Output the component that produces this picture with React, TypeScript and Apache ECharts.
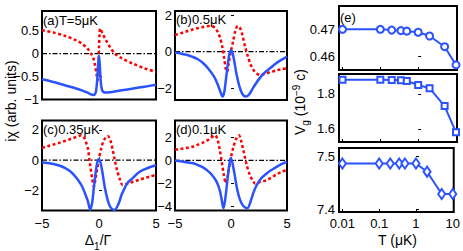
import React, { useEffect, useRef } from "react";
import * as echarts from "echarts";

// ---------- data ----------
const xBlueA = [-5, -4, -3, -2, -1.5, -1, -0.7, -0.5, -0.35, -0.25, -0.15, -0.08, 0, 0.08, 0.15, 0.25, 0.4, 0.7, 1, 1.5, 2, 3, 4, 5];
const blueA = [-0.56, -0.62, -0.69, -0.76, -0.8, -0.85, -0.89, -0.9, -0.88, -0.8, -0.55, -0.25, -0.04, -0.3, -0.6, -0.78, -0.84, -0.85, -0.84, -0.82, -0.8, -0.76, -0.72, -0.68];
const xRedA = [-5, -4, -3, -2, -1.5, -1, -0.7, -0.5, -0.35, -0.22, -0.12, -0.05, 0, 0.05, 0.1, 0.2, 0.35, 0.6, 1, 1.4, 2, 3, 4, 5];
const redA = [0.51, 0.46, 0.39, 0.29, 0.22, 0.11, 0.0, -0.1, -0.25, -0.45, -0.58, -0.25, 0.15, 0.42, 0.55, 0.5, 0.42, 0.3, 0.13, 0.0, -0.1, -0.22, -0.32, -0.4];

const xBlueB = [-5, -4.5, -4, -3.5, -3, -2.5, -2, -1.5, -1.25, -1, -0.75, -0.6, -0.45, -0.3, -0.15, 0, 0.15, 0.3, 0.5, 0.75, 1, 1.3, 1.6, 2, 2.5, 3, 3.5, 4, 4.5, 5];
const blueB = [-0.05, -0.1, -0.17, -0.27, -0.4, -0.62, -0.95, -1.38, -1.7, -2.1, -2.45, -2.2, -1.5, -0.75, -0.15, 0.08, -0.1, -0.55, -1.25, -1.9, -2.3, -2.45, -2.35, -1.95, -1.5, -1.15, -0.9, -0.65, -0.45, -0.27];
const xRedB = [-5, -4.5, -4, -3.5, -3, -2.5, -2, -1.75, -1.5, -1.25, -1, -0.75, -0.6, -0.45, -0.35, -0.2, 0, 0.2, 0.4, 0.6, 0.8, 1, 1.25, 1.5, 1.75, 2, 2.3, 2.6, 3, 3.5, 4, 4.5, 5];
const redB = [0.91, 1.0, 1.1, 1.2, 1.28, 1.35, 1.4, 1.41, 1.33, 1.15, 0.8, 0.2, -0.4, -1.0, -1.1, -0.6, 0.05, 0.6, 1.15, 1.4, 1.3, 0.95, 0.3, -0.25, -0.7, -1.0, -1.2, -1.27, -1.22, -1.12, -1.03, -0.96, -0.91];

const xBlueC = [-5, -4.5, -4, -3.5, -3, -2.5, -2, -1.75, -1.5, -1.25, -1, -0.85, -0.77, -0.6, -0.45, -0.3, -0.15, 0, 0.15, 0.3, 0.5, 0.75, 1, 1.35, 1.7, 2, 2.5, 3, 3.5, 4, 4.5, 5];
const blueC = [-0.15, -0.19, -0.25, -0.35, -0.5, -0.75, -1.15, -1.4, -1.7, -2.15, -2.65, -3.1, -3.28, -2.8, -1.8, -0.85, -0.15, 0.07, -0.2, -0.8, -1.75, -2.6, -3.1, -3.28, -2.9, -2.25, -1.5, -1.15, -0.8, -0.6, -0.45, -0.33];
const xRedC = [-5, -4.5, -4, -3.5, -3, -2.5, -2, -1.55, -1.3, -1.1, -0.97, -0.8, -0.6, -0.45, -0.3, -0.15, 0, 0.2, 0.45, 0.77, 1, 1.2, 1.35, 1.6, 1.85, 2.07, 2.5, 3, 3.5, 4, 4.5, 5];
const redC = [0.81, 0.92, 1.03, 1.14, 1.27, 1.4, 1.53, 1.64, 1.5, 1.1, 0.77, -0.2, -1.2, -1.75, -1.2, -0.55, 0.11, 0.8, 1.35, 1.6, 1.3, 0.7, 0.11, -0.7, -1.3, -1.64, -1.55, -1.42, -1.3, -1.18, -1.07, -0.98];

const xBlueD = [-5, -4.5, -4, -3.36, -3, -2.5, -2.17, -1.75, -1.28, -1, -0.85, -0.68, -0.55, -0.4, -0.25, -0.12, -0.03, 0.1, 0.3, 0.55, 0.8, 1.1, 1.46, 1.8, 2, 2.29, 2.7, 3.18, 3.5, 4, 4.5, 5];
const blueD = [0.0, -0.08, -0.15, -0.25, -0.38, -0.6, -0.83, -1.2, -1.86, -2.6, -3.3, -4.14, -3.6, -2.4, -1.1, -0.2, 0.19, -0.1, -1.1, -2.5, -3.4, -3.95, -4.14, -3.4, -2.8, -2.15, -1.55, -1.13, -0.9, -0.6, -0.33, -0.1];
const xRedD = [-5, -4.5, -4, -3.36, -3, -2.5, -2, -1.43, -1.2, -1, -0.83, -0.65, -0.45, -0.3, -0.15, 0, 0.2, 0.45, 0.71, 0.9, 1.1, 1.4, 1.7, 2, 2.14, 2.5, 3.18, 3.5, 4, 4.5, 5];
const redD = [0.92, 1.0, 1.08, 1.21, 1.35, 1.55, 1.8, 2.18, 1.8, 0.9, -0.1, -1.2, -2.0, -1.4, -0.5, 0.3, 1.1, 1.85, 2.18, 1.7, 0.9, -0.39, -1.3, -1.85, -2.0, -1.9, -1.71, -1.55, -1.25, -1.0, -0.83];

const yTicksA = [-1, -0.5, 0, 0.5];
const yTicksB = [-2, 0, 2];
const yTicksC = [-2, 0, 2];
const yTicksD = [-4, -2, 0, 2];
const xTicksAD = [-5, 0, 5];

const temps = [0.01, 0.1, 0.2, 0.35, 0.5, 1, 2, 5, 10];
const vgTop = [0.47, 0.47, 0.4697, 0.4695, 0.4693, 0.4689, 0.4675, 0.4635, 0.4567];
const vgMid = [1.881, 1.881, 1.88, 1.879, 1.874, 1.851, 1.833, 1.731, 1.581];
const vgBot = [7.486, 7.486, 7.486, 7.486, 7.486, 7.486, 7.4707, 7.429, 7.429];
const tTicks = [0.01, 0.1, 1, 10];
const tTickLabels = ["0.01", "0.1", "1", "10"];
const yTicksE1 = [0.46, 0.47];
const yTicksE2 = [1.6, 1.8];
const yTicksE3 = [7.4, 7.5];

const panelLabels = ["(a)T=5\u03bcK", "(b)0.5\u03bcK", "(c)0.35\u03bcK", "(d)0.1\u03bcK", "(e)"];

// ---------- styling ----------
const FONT = "'Liberation Sans', Arial, Helvetica, sans-serif";
const BLUE = "#2a52ff";
const RED = "#ff0000";
const FS = 13;

const minus = (v: number) => String(v).replace("-", "\u2212");

export default function App() {
  const ref = useRef<HTMLDivElement>(null);

  useEffect(() => {
    if (!ref.current) return;
    const chart = echarts.init(ref.current, undefined, { renderer: "svg" });

    const grids = [
      { left: 42, top: 11, width: 114, height: 88.5 },
      { left: 175, top: 11, width: 112, height: 89 },
      { left: 42, top: 120.5, width: 114, height: 90 },
      { left: 175, top: 120.5, width: 112, height: 90 },
      { left: 339, top: 6, width: 118, height: 64 },
      { left: 339, top: 74, width: 118, height: 68 },
      { left: 339, top: 148, width: 118, height: 64 },
    ].map((g) => ({ ...g, show: true, borderColor: "#000", borderWidth: 2, backgroundColor: "transparent" }));

    const tick = (vals?: number[]) => ({
      show: true,
      inside: true,
      length: 3,
      lineStyle: { color: "#000", width: 1 },
      ...(vals ? { customValues: vals } : {}),
    });
    const labelBase = { color: "#000", fontSize: FS, fontFamily: FONT };

    const xAD = (i: number, show: boolean) => ({
      type: "value",
      gridIndex: i,
      min: -5,
      max: 5,
      axisLine: { show: false },
      splitLine: { show: false },
      axisTick: tick(xTicksAD),
      axisLabel: { ...labelBase, show, margin: 6, customValues: xTicksAD, formatter: (v: number) => minus(v), showMinLabel: true, showMaxLabel: true },
    });
    const yAD = (i: number, min: number, max: number, ticks: number[]) => ({
      type: "value",
      gridIndex: i,
      min,
      max,
      axisLine: { show: false },
      splitLine: { show: false },
      axisTick: tick(ticks),
      axisLabel: { ...labelBase, margin: 3, customValues: ticks, formatter: (v: number) => minus(v) },
    });
    const logTicks = tTicks.map((t) => Math.log10(t));
    const xE = (i: number, show: boolean) => ({
      type: "value",
      gridIndex: i,
      min: -2.0925,
      max: 1.026,
      axisLine: { show: false },
      splitLine: { show: false },
      axisTick: tick(logTicks),
      axisLabel: {
        ...labelBase,
        show,
        margin: 5,
        customValues: logTicks,
        formatter: (v: number) => tTickLabels[logTicks.findIndex((l) => Math.abs(l - v) < 1e-6)] ?? "",
      },
    });
    const yE = (i: number, min: number, max: number, ticks: number[], dec: number) => ({
      type: "value",
      gridIndex: i,
      min,
      max,
      axisLine: { show: false },
      splitLine: { show: false },
      axisTick: tick(ticks),
      axisLabel: { ...labelBase, margin: 4, customValues: ticks, formatter: (v: number) => v.toFixed(dec) },
    });

    const pair = (xs: number[], ys: number[]) => xs.map((x, k) => [x, ys[k]]);
    const panelSeries = (i: number, xb: number[], b: number[], xr: number[], r: number[]) => [
      {
        type: "line",
        xAxisIndex: i,
        yAxisIndex: i,
        data: [[-5, 0], [5, 0]],
        symbol: "none",
        lineStyle: { color: "#000", width: 1.2, type: [5, 2, 1.5, 2] },
        z: 1,
      },
      {
        type: "line",
        xAxisIndex: i,
        yAxisIndex: i,
        data: pair(xr, r),
        symbol: "none",
        smooth: 0.3,
        lineStyle: { color: RED, width: 2.5, type: [3, 2.5] },
        z: 2,
      },
      {
        type: "line",
        xAxisIndex: i,
        yAxisIndex: i,
        data: pair(xb, b),
        symbol: "none",
        smooth: 0.3,
        lineStyle: { color: BLUE, width: 2.5 },
        z: 3,
      },
    ];
    const eSeries = (i: number, vals: number[], symbol: string, size: any) => ({
      type: "line",
      xAxisIndex: i,
      yAxisIndex: i,
      data: temps.map((t, k) => [Math.log10(t), vals[k]]),
      symbol,
      symbolSize: size,
      lineStyle: { color: BLUE, width: 2 },
      itemStyle: { color: BLUE, borderWidth: 1.5 },
    });

    const txt = (text: string, x: number, y: number, extra: any = {}) => ({
      type: "text",
      x,
      y,
      ...extra,
      style: {
        text,
        fontSize: FS,
        fontFamily: FONT,
        fill: "#000",
        align: "left",
        textAlign: "left",
        verticalAlign: "middle",
        textVerticalAlign: "middle",
        ...(extra.style || {}),
      },
    });

    const option = {
      animation: false,
      backgroundColor: "#fff",
      grid: grids,
      xAxis: [xAD(0, false), xAD(1, false), xAD(2, true), xAD(3, true), xE(4, false), xE(5, false), xE(6, true)],
      yAxis: [
        yAD(0, -1, 0.93, yTicksA),
        yAD(1, -2.64, 2.22, yTicksB),
        yAD(2, -3.32, 2.62, yTicksC),
        yAD(3, -4.34, 3.46, yTicksD),
        yE(4, 0.4548, 0.4787, yTicksE1, 2),
        yE(5, 1.5257, 1.914, yTicksE2, 1),
        yE(6, 7.3953, 7.515, yTicksE3, 1),
      ],
      series: [
        ...panelSeries(0, xBlueA, blueA, xRedA, redA),
        ...panelSeries(1, xBlueB, blueB, xRedB, redB),
        ...panelSeries(2, xBlueC, blueC, xRedC, redC),
        ...panelSeries(3, xBlueD, blueD, xRedD, redD),
        eSeries(4, vgTop, "emptyCircle", 7),
        eSeries(5, vgMid, "emptyRect", 6),
        eSeries(6, vgBot, "emptyDiamond", [7, 10]),
      ],
      graphic: [
        txt(panelLabels[0], 43, 20),
        txt(panelLabels[1], 176, 19.5),
        txt(panelLabels[2], 43, 129),
        txt(panelLabels[3], 176, 129.5),
        txt(panelLabels[4], 340, 17.5),
        txt("i\u03c7 (arb. units)", 11, 101, {
          rotation: Math.PI / 2,
          style: { fontSize: 14, align: "center", textAlign: "center" },
        }),
        txt("{m|\u0394}{s|1}{m|/\u0393}", 98, 240, {
          style: {
            align: "center",
            textAlign: "center",
            rich: {
              m: { fontSize: 14, lineHeight: 14, fontFamily: FONT, fill: "#000" },
              s: { fontSize: 10, lineHeight: 10, padding: [12, 0, 0, 0], fontFamily: FONT, fill: "#000" },
            },
          },
        }),
        txt("T (\u03bcK)", 397.5, 240, { style: { fontSize: 14, align: "center", textAlign: "center" } }),
        txt("{m|V}{s|g}{m| (10}{p|\u22129}{m| c)}", 300, 102, {
          rotation: Math.PI / 2,
          style: {
            align: "center",
            textAlign: "center",
            rich: {
              m: { fontSize: 14, lineHeight: 14, fontFamily: FONT, fill: "#000" },
              s: { fontSize: 10, lineHeight: 10, padding: [10, 0, 0, 0], fontFamily: FONT, fill: "#000" },
              p: { fontSize: 10, lineHeight: 10, padding: [0, 0, 8, 0], fontFamily: FONT, fill: "#000" },
            },
          },
        }),
      ],
    };

    chart.setOption(option as any);
    return () => chart.dispose();
  }, []);

  return <div ref={ref} style={{ position: "fixed", left: 0, top: 0, width: 463, height: 251 }} />;
}
